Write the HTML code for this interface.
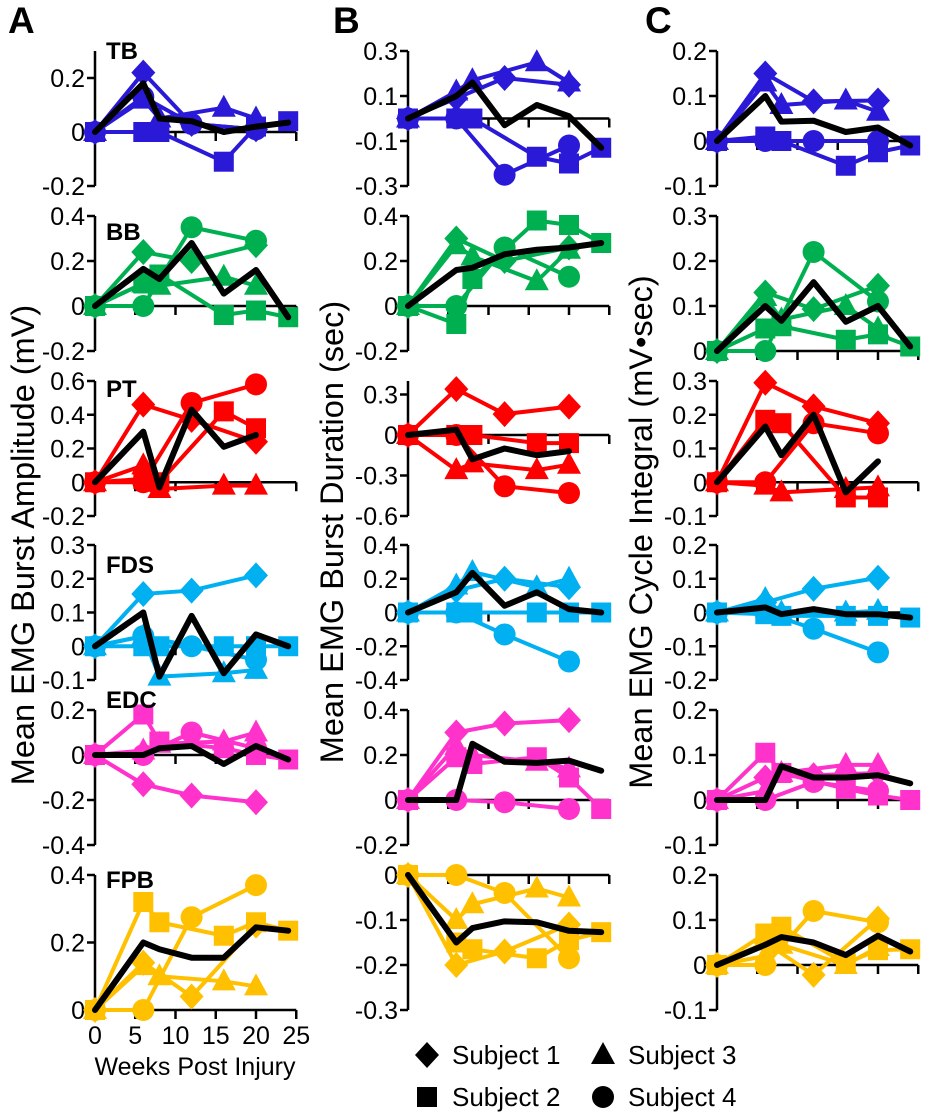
<!DOCTYPE html>
<html><head><meta charset="utf-8"><style>
html,body{margin:0;padding:0;background:#fff;}
svg{display:block;font-family:"Liberation Sans",sans-serif;}
</style></head><body>
<svg id="fig" width="925" height="1114" viewBox="0 0 925 1114" xmlns="http://www.w3.org/2000/svg"></svg>
<script>
const n = null;
const weeks = [0,6,8,12,16,20,24];
const muscles = ["TB","BB","PT","FDS","EDC","FPB"];
const muscleColors = ["#2a1ad8","#00b050","#ff0000","#00b0f0","#ff33cc","#ffc000"];
const xTickLabels = [0,5,10,15,20,25];

// Column A: amplitude (mV). Each: [s1,s2,s3,s4,mean] over weeks
const ampTB  = [[0,0.22,n,0.03,n,0.01,n],[0,0,0,n,-0.11,0.02,0.04],[0,0.12,0.05,n,0.09,0.05,n],[0,0.13,n,0.03,n,0.01,n],[0,0.18,0.05,0.04,0,0.02,0.035]];
const ampBB  = [[0,0.24,n,0.2,n,0.27,n],[0,0.1,0.14,n,-0.04,-0.02,-0.05],[0,0.1,0.09,n,0.13,0.09,n],[0,0,n,0.35,n,0.29,n],[0,0.165,0.12,0.28,0.055,0.16,-0.05]];
const ampPT  = [[0,0.46,n,0.37,n,0.24,n],[0,0.02,0,n,0.42,0.32,n],[0,0.1,-0.04,n,-0.02,-0.02,n],[0,0,n,0.47,n,0.58,n],[0,0.3,-0.03,0.43,0.21,0.28,n]];
const ampFDS = [[0,0.155,n,0.165,n,0.21,n],[0,0,0,n,0,0,0],[0,0.03,-0.09,n,-0.08,-0.07,n],[0,0.03,n,0,n,-0.04,n],[0,0.1,-0.09,0.09,-0.08,0.035,0]];
const ampEDC = [[0,-0.13,n,-0.18,n,-0.21,n],[0,0.18,0.06,n,0.03,0,-0.02],[0,0.02,0.05,n,0.06,0.1,n],[0,0,n,0.1,n,0.03,n],[0,0,0.03,0.04,-0.04,0.04,-0.02]];
const ampFPB = [[0,0.14,n,0.04,n,0.25,n],[0,0.32,0.26,n,0.22,0.26,0.235],[0,0.13,0.1,n,0.085,0.07,n],[0,0,n,0.275,n,0.37,n],[0,0.2,0.18,0.155,0.155,0.245,0.235]];
// Column B: duration (sec)
const durTB  = [[0,0.09,n,0.18,n,0.15,n],[0,0,0,n,-0.17,-0.2,-0.13],[0,0.12,0.17,n,0.25,0.16,n],[0,0,n,-0.25,n,-0.12,n],[0,0.1,0.16,-0.03,0.06,0.01,-0.13]];
const durBB  = [[0,0.3,n,0.2,n,0.26,n],[0,-0.08,0.12,n,0.38,0.36,0.28],[0,0.27,0.22,n,0.11,0.25,n],[0,0,n,0.26,n,0.13,n],[0,0.16,0.17,0.23,0.25,0.26,0.28]];
const durPT  = [[0,0.34,n,0.155,n,0.21,n],[0,0,0,n,-0.06,-0.06,n],[0,-0.26,-0.21,n,-0.26,-0.22,n],[0,0,n,-0.38,n,-0.43,n],[0,0.04,-0.18,-0.1,-0.15,-0.12,n]];
const durFDS = [[0,0.13,n,0.2,n,0.15,n],[0,0,0,n,0,0,0],[0,0.16,0.24,n,0.15,0.2,n],[0,0,n,-0.13,n,-0.29,n],[0,0.12,0.235,0.04,0.12,0.02,0]];
const durEDC = [[0,0.3,n,0.34,n,0.355,n],[0,0.19,0.16,n,0.19,0.1,-0.04],[0,0.24,0.2,n,0.17,0.14,n],[0,0,n,-0.01,n,-0.04,n],[0,0,0.25,0.17,0.165,0.175,0.13]];
const durFPB = [[0,-0.2,n,-0.17,n,-0.11,n],[0,-0.15,-0.165,n,-0.185,-0.145,-0.127],[0,-0.1,-0.065,n,-0.03,-0.05,n],[0,0,n,-0.04,n,-0.185,n],[0,-0.15,-0.118,-0.103,-0.105,-0.124,-0.127]];
// Column C: cycle integral (mV*sec)
const intTB  = [[0,0.15,n,0.088,n,0.09,n],[0,0.01,0,n,-0.055,-0.025,-0.01],[0,0.13,0.08,n,0.09,0.065,n],[0,0,n,0,n,0,n],[0,0.1,0.043,0.045,0.02,0.03,-0.01]];
const intBB  = [[0,0.13,n,0.093,n,0.145,n],[0,0.05,0.055,n,0.025,0.037,0.01],[0,0.12,0.07,n,0.1,0.05,n],[0,0,n,0.22,n,0.11,n],[0,0.1,0.067,0.153,0.065,0.1,0.01]];
const intPT  = [[0,0.295,n,0.225,n,0.175,n],[0,0.185,0.175,n,-0.045,-0.045,n],[0,-0.01,-0.03,n,-0.02,-0.015,n],[0,0,n,0.175,n,0.145,n],[0,0.165,0.08,0.2,-0.03,0.062,n]];
const intFDS = [[0,0.03,n,0.07,n,0.103,n],[0,-0.005,-0.01,n,-0.01,-0.01,-0.015],[0,0.04,0,n,0,0.005,n],[0,0,n,-0.048,n,-0.118,n],[0,0.015,-0.005,0.01,-0.005,-0.005,-0.015]];
const intEDC = [[0,0.05,n,0.055,n,0.06,n],[0,0.105,0.06,n,0.025,0.01,0],[0,0.02,0.06,n,0.078,0.078,n],[0,0,n,0.04,n,0.02,n],[0,0,0.075,0.05,0.05,0.055,0.037]];
const intFPB = [[0,0.05,n,-0.022,n,0.103,n],[0,0.07,0.085,n,0.004,0.033,0.035],[0,0.02,0.045,n,0,0.04,n],[0,0,n,0.12,n,0.095,n],[0,0.045,0.062,0.05,0.022,0.065,0.03]];

// axis ranges [min,max] and tick labels
const rangesA = [[-0.2,0.3],[-0.2,0.4],[-0.2,0.6],[-0.1,0.3],[-0.4,0.2],[0,0.4]];
const rangesB = [[-0.3,0.3],[-0.2,0.4],[-0.6,0.4],[-0.4,0.4],[-0.2,0.4],[-0.3,0]];
const rangesC = [[-0.1,0.2],[0,0.3],[-0.1,0.3],[-0.2,0.2],[-0.1,0.2],[-0.1,0.2]];
const ticksA = [["-0.2","0","0.2"],["-0.2","0","0.2","0.4"],["-0.2","0","0.2","0.4","0.6"],["-0.1","0","0.1","0.2","0.3"],["-0.4","-0.2","0","0.2"],["0","0.2","0.4"]];
const ticksB = [["-0.3","-0.1","0.1","0.3"],["-0.2","0","0.2","0.4"],["-0.6","-0.3","0","0.3"],["-0.4","-0.2","0","0.2","0.4"],["-0.2","0","0.2","0.4"],["-0.3","-0.2","-0.1","0"]];
const ticksC = [["-0.1","0","0.1","0.2"],["0","0.1","0.2","0.3"],["-0.1","0","0.1","0.2","0.3"],["-0.2","-0.1","0","0.1","0.2"],["-0.1","0","0.1","0.2"],["-0.1","0","0.1","0.2"]];

const NS = "http://www.w3.org/2000/svg";
const svg = document.getElementById("fig");
function mk(tag, attrs, parent){ const e=document.createElementNS(NS,tag); for(const k in attrs) e.setAttribute(k,attrs[k]); (parent||svg).appendChild(e); return e; }

const rowTops = [51,216,381,545,710,875];
const PH = 135, PPW = 8.05;
const colX = [95,408,717];
const colData = [[ampTB,ampBB,ampPT,ampFDS,ampEDC,ampFPB],[durTB,durBB,durPT,durFDS,durEDC,durFPB],[intTB,intBB,intPT,intFDS,intEDC,intFPB]];
const colRanges = [rangesA,rangesB,rangesC];
const colTicks = [ticksA,ticksB,ticksC];
const colKeys = ["amplitude","duration","integral"];

function marker(g, kind, cx, cy, col){
  let e;
  if(kind===0) e=mk("polygon",{points:`${cx},${cy-13} ${cx+12},${cy} ${cx},${cy+13} ${cx-12},${cy}`,fill:col},g);
  else if(kind===1) e=mk("rect",{x:cx-10,y:cy-10,width:20,height:20,fill:col},g);
  else if(kind===2) e=mk("polygon",{points:`${cx},${cy-13} ${cx+12},${cy+9} ${cx-12},${cy+9}`,fill:col},g);
  else e=mk("circle",{cx:cx,cy:cy,r:11,fill:col},g);
  return e;
}

for(let c=0;c<3;c++){
  for(let r=0;r<6;r++){
    const x0=colX[c], top=rowTops[r], rg=colRanges[c][r];
    const yS = v => top + (rg[1]-v)/(rg[1]-rg[0])*PH;
    const xS = w => x0 + w*PPW;
    const g = mk("g",{});
    
    
    const ya = mk("line",{x1:x0,y1:top,x2:x0,y2:top+PH,stroke:"#000","stroke-width":2.5},g);
    
    
    colTicks[c][r].forEach(t=>{
      const yy=yS(parseFloat(t));
      mk("line",{x1:x0-8,y1:yy,x2:x0,y2:yy,stroke:"#000","stroke-width":2.5},g);
      const tl=mk("text",{x:x0-10,y:yy+9,"text-anchor":"end","font-size":25,fill:"#000"},g);
      tl.textContent=t;
      
      
    });
    const y0=yS(0);
    const xa=mk("line",{x1:x0,y1:y0,x2:xS(25),y2:y0,stroke:"#000","stroke-width":2.5},g);
    
    
    xTickLabels.forEach(w=>{ if(w>0) mk("line",{x1:xS(w),y1:y0,x2:xS(w),y2:y0+9,stroke:"#000","stroke-width":2.5},g); });
    const col=muscleColors[r];
    const series=colData[c][r];
    let meanLine=null;
    for(let s=0;s<5;s++){
      const vals=series[s];
      const pts=[];
      vals.forEach((v,i)=>{ if(v!==null) pts.push([xS(weeks[i]),yS(v)]); });
      const pl=mk("polyline",{points:pts.map(p=>p.join(",")).join(" "),fill:"none",stroke:s===4?"#000":col,"stroke-width":s===4?6:4,"stroke-linejoin":"round","stroke-linecap":"round"},g);
      
      
      if(s===4) meanLine=pl;
      if(s<4){ pts.forEach(p=>{ const m=marker(g,s,p[0],p[1],col);
        
         }); }
    }
    g.appendChild(meanLine);
    if(c===0){
      const tt=mk("text",{x:106,y:top+(r===0?8:r===4?-2:r===5?13:r===2?16:r===1?24:28),"font-size":24,"font-weight":"bold",fill:"#000"},g);
      tt.textContent=muscles[r];
      
      
    }
  }
}
xTickLabels.forEach(w=>{
  const t=mk("text",{x:95+w*PPW,y:1044,"text-anchor":"middle","font-size":25,fill:"#000"});
  t.textContent=String(w);
  
  
});
const xt=mk("text",{x:195,y:1075,"text-anchor":"middle","font-size":25,fill:"#000"});
xt.textContent="Weeks Post Injury";



[["Mean EMG Burst Amplitude (mV)",34,545],["Mean EMG Burst Duration (sec)",343,532],["Mean EMG Cycle Integral (mV\u2022sec)",652,532]].forEach((d,i)=>{
  const t=mk("text",{x:0,y:0,transform:`translate(${d[1]},${d[2]}) rotate(-90)`,"text-anchor":"middle","font-size":32.5,fill:"#000"});
  t.textContent=d[0];
  
  
});
[["A",8],["B",333],["C",645]].forEach(d=>{
  const t=mk("text",{x:d[1],y:33,"font-size":37,"font-weight":"bold",fill:"#000"});
  t.textContent=d[0];
  
  
});
const lg=mk("g",{});


[[0,427,1055,"Subject 1"],[1,427,1097,"Subject 2"],[2,603,1055,"Subject 3"],[3,603,1097,"Subject 4"]].forEach(d=>{
  const e=mk("g",{},lg);
  
  
  marker(e,d[0],d[1],d[2],"#000");
  const t=mk("text",{x:d[1]+25,y:d[2]+9,"font-size":26,fill:"#000"},e);
  t.textContent=d[3];
});
</script>
</body></html>
